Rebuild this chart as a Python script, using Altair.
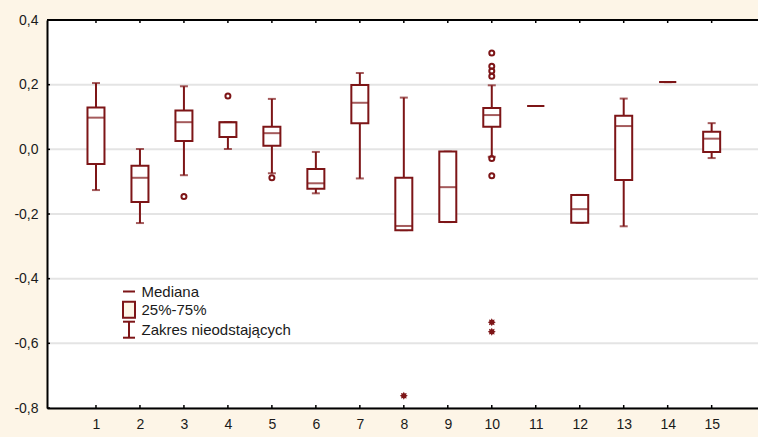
import math
import altair as alt
import pandas as pd

categories = list(range(1, 16))
whisker_low = [-0.126, -0.228, -0.080, 0.001, -0.074, -0.136, -0.090, -0.250, -0.225, -0.023, 0.134, -0.227, -0.238, 0.208, -0.027]
q1 = [-0.045, -0.163, 0.026, 0.038, 0.011, -0.122, 0.081, -0.250, -0.225, 0.070, 0.134, -0.227, -0.095, 0.208, -0.008]
median = [0.098, -0.088, 0.084, 0.084, 0.050, -0.105, 0.144, -0.237, -0.117, 0.106, 0.134, -0.185, 0.072, 0.208, 0.033]
q3 = [0.129, -0.051, 0.120, 0.084, 0.070, -0.061, 0.199, -0.088, -0.007, 0.128, 0.134, -0.141, 0.104, 0.208, 0.054]
whisker_high = [0.205, 0.001, 0.195, 0.084, 0.156, -0.008, 0.236, 0.160, -0.007, 0.198, 0.134, -0.141, 0.157, 0.208, 0.081]

outlier_cat = [3, 4, 5, 10, 10, 10, 10, 10, 10]
outlier_val = [-0.146, 0.165, -0.088, 0.298, 0.257, 0.242, 0.226, -0.028, -0.082]
extreme_cat = [8, 10, 10]
extreme_val = [-0.762, -0.535, -0.564]

y_ticks = [-0.8, -0.6, -0.4, -0.2, 0.0, 0.2, 0.4]
legend_labels = ["Mediana", "25%-75%", "Zakres nieodstających"]

RED = "#7d1517"
CREAM = "#fdf5e7"
GRID = "#e4e4e4"
TXT = "#1a1a1a"
FONT = "Liberation Sans"
W, H = 711, 388

df = pd.DataFrame({"cat": categories, "wl": whisker_low, "q1": q1, "med": median,
                   "q3": q3, "wh": whisker_high})
df_out = pd.DataFrame({"cat": outlier_cat, "v": outlier_val})
df_ext = pd.DataFrame({"cat": extreme_cat, "v": extreme_val})
df_yt = pd.DataFrame({"v": y_ticks})
df_xt = pd.DataFrame({"cat": categories})
df_one = pd.DataFrame({"k": [0]})

xscale = alt.Scale(domain=[0, 15.94], nice=False, zero=False)
yscale = alt.Scale(domain=[-0.8, 0.4], nice=False, zero=False)
xaxis = alt.Axis(title=None, values=categories, format="d", grid=False, tickSize=0,
                 domainColor="black", domainWidth=2, labelFont=FONT, labelFontSize=14,
                 labelColor=TXT, labelPadding=9, zindex=1)
yaxis = alt.Axis(title=None, values=y_ticks, grid=False,
                 tickSize=0, domainColor="black", domainWidth=2, labelFont=FONT,
                 labelFontSize=14, labelColor=TXT, labelPadding=9, zindex=1,
                 labelExpr="replace(replace(format(datum.value, '.1f'), '.', ','), '\u2212', '-')")

X = alt.X("cat:Q", scale=xscale, axis=xaxis)

def Y(field):
    return alt.Y(field, type="quantitative", scale=yscale, axis=yaxis)

# asterisk-like star symbol (shape only)
pts = []
for i in range(16):
    r = 1.0 if i % 2 == 0 else 0.62
    a = math.pi * i / 8 - math.pi / 2
    pts.append(f"{r * math.cos(a):.3f},{r * math.sin(a):.3f}")
STAR = "M" + "L".join(pts) + "Z"

# white plot area and grid lines
plot_bg = alt.Chart(df_one).mark_rect(fill="white").encode(
    x=alt.value(0), x2=alt.value(W), y=alt.value(0), y2=alt.value(H))
grid = alt.Chart(df_yt).mark_rule(color=GRID, strokeWidth=2).encode(
    x=alt.value(0), x2=alt.value(W), y=Y("v"))

base = alt.Chart(df)

whisk_lo = base.mark_rule(color=RED, strokeWidth=2).encode(x=X, y=Y("wl"), y2="q1")
whisk_hi = base.mark_rule(color=RED, strokeWidth=2).encode(x=X, y=Y("q3"), y2="wh")
cap_lo = base.mark_tick(orient="horizontal", size=8, thickness=2, color=RED).encode(x=X, y=Y("wl"))
cap_hi = base.mark_tick(orient="horizontal", size=8, thickness=2, color=RED).encode(x=X, y=Y("wh"))
box = base.mark_bar(size=17, fill="white", stroke=RED, strokeWidth=2).encode(x=X, y=Y("q1"), y2="q3")
med = base.mark_tick(orient="horizontal", size=17, thickness=2, color=RED).encode(x=X, y=Y("med"))

outl = alt.Chart(df_out).mark_point(shape="circle", filled=False, size=25, strokeWidth=2,
                                    color=RED, opacity=1).encode(x=X, y=Y("v"))
extr = alt.Chart(df_ext).mark_point(shape=STAR, filled=True, size=64, color=RED,
                                    opacity=1).encode(x=X, y=Y("v"))

# frame: top border and inward ticks
top_border = alt.Chart(df_one).mark_rule(color="black", strokeWidth=2).encode(
    x=alt.value(0), x2=alt.value(W), y=alt.value(0))
ytick_in = alt.Chart(df_yt).mark_rule(color="black", strokeWidth=1.5).encode(
    x=alt.value(0), x2=alt.value(3), y=Y("v"))
xtick_top = alt.Chart(df_xt).mark_rule(color="black", strokeWidth=1.5).encode(
    x=X, y=alt.value(0), y2=alt.value(3))
xtick_bot = alt.Chart(df_xt).mark_rule(color="black", strokeWidth=1.5).encode(
    x=X, y=alt.value(H - 3), y2=alt.value(H))

# legend (inside plot area, lower left)
LX0, LX1, LXC, LTX = 76, 88, 82, 94.5
ROWS = [271.5, 289.7, 309.7]
one = alt.Chart(df_one)
leg_med = one.mark_rule(color=RED, strokeWidth=2).encode(
    x=alt.value(LX0), x2=alt.value(LX1), y=alt.value(ROWS[0]))
leg_box = one.mark_rect(fill=CREAM, stroke=RED, strokeWidth=2).encode(
    x=alt.value(LX0), x2=alt.value(LX1), y=alt.value(ROWS[1] - 8), y2=alt.value(ROWS[1] + 8))
leg_wv = one.mark_rule(color=RED, strokeWidth=2).encode(
    x=alt.value(LXC), y=alt.value(ROWS[2] - 8), y2=alt.value(ROWS[2] + 8))
leg_wt = one.mark_rule(color=RED, strokeWidth=2).encode(
    x=alt.value(LX0), x2=alt.value(LX1), y=alt.value(ROWS[2] - 8))
leg_wb = one.mark_rule(color=RED, strokeWidth=2).encode(
    x=alt.value(LX0), x2=alt.value(LX1), y=alt.value(ROWS[2] + 8))
leg_txt = [
    one.mark_text(align="left", baseline="middle", font=FONT, fontSize=15, color=TXT).encode(
        x=alt.value(LTX), y=alt.value(ROWS[i] + 0.5), text=alt.value(legend_labels[i]))
    for i in range(3)
]

chart = alt.layer(
    plot_bg, grid, whisk_lo, whisk_hi, cap_lo, cap_hi, box, med, outl, extr,
    ytick_in, xtick_top, xtick_bot, top_border,
    leg_med, leg_box, leg_wv, leg_wt, leg_wb, *leg_txt
).properties(
    width=W, height=H,
    autosize=alt.AutoSizeParams(type="none"),
    padding={"left": 47, "top": 20, "right": 0, "bottom": 29},
    background=CREAM,
).configure_view(stroke=None)

chart.save("out.html", embed_options={"renderer": "svg", "actions": False})
